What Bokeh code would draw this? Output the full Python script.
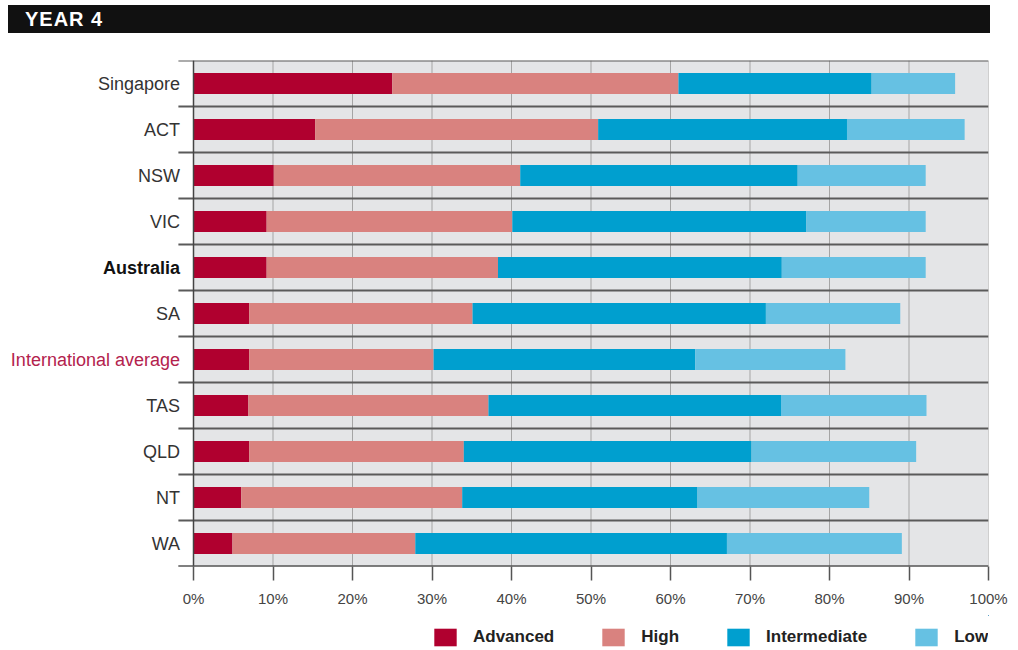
from bokeh.plotting import figure
from bokeh.models import (ColumnDataSource, Range1d, FixedTicker, Div,
                          Legend, LegendItem)
from bokeh.core.properties import value
from bokeh.layouts import column
from bokeh.embed import file_html
from bokeh.resources import INLINE

categories = ["Singapore", "ACT", "NSW", "VIC", "Australia", "SA",
              "International average", "TAS", "QLD", "NT", "WA"]
advanced = [25.0, 15.3, 10.1, 9.2, 9.2, 7.0, 7.0, 6.9, 7.0, 6.0, 4.9]
high = [36.0, 35.6, 31.0, 30.9, 29.1, 28.1, 23.2, 30.2, 27.0, 27.8, 23.0]
intermediate = [24.3, 31.3, 34.9, 37.0, 35.7, 36.9, 32.9, 36.8, 36.2, 29.6, 39.2]
low = [10.5, 14.8, 16.1, 15.0, 18.1, 16.9, 18.9, 18.3, 20.7, 21.6, 22.0]
levels = ["Advanced", "High", "Intermediate", "Low"]
colors = ["#b0002f", "#d9827f", "#009fcf", "#66c1e3"]
x_ticks = [0, 10, 20, 30, 40, 50, 60, 70, 80, 90, 100]

FONT = "Liberation Sans"
n = len(categories)
ypos = [n - 1 - i for i in range(n)]
label_colors = ["#b3224d" if c == "International average"
                else ("#111111" if c == "Australia" else "#333333")
                for c in categories]
label_styles = ["bold" if c == "Australia" else "normal" for c in categories]

source = ColumnDataSource(dict(y=ypos, Advanced=advanced, High=high,
                               Intermediate=intermediate, Low=low))
lab_src = ColumnDataSource(dict(y=ypos, name=categories, color=label_colors,
                                style=label_styles))

PX = 7.95  # pixels per percent
p = figure(width=1018, height=582, output_backend="svg", toolbar_location=None,
           x_range=Range1d(-193 / PX, 100), y_range=Range1d(-0.5, n - 0.5),
           min_border_left=0, min_border_right=30, min_border_top=27,
           min_border_bottom=49, outline_line_color=None,
           background_fill_color="white", border_fill_color="white")
p.yaxis.visible = False
p.grid.visible = False

# grey plotting area
p.quad(left=[0], right=[100], bottom=[-0.5], top=[n - 0.5],
       fill_color="#e4e5e7", line_color=None)
# vertical grid lines
p.segment(x0=x_ticks, x1=x_ticks, y0=[-0.5] * len(x_ticks),
          y1=[n - 0.5] * len(x_ticks), line_color="#a5a5a5", line_width=1)
# row separators (extend left of the plotting area)
bounds = [i - 0.5 for i in range(n + 1)]
p.segment(x0=[-1.9] * len(bounds), x1=[100] * len(bounds), y0=bounds,
          y1=bounds, line_color="#5a5a5a", line_width=2)

p.hbar_stack(levels, y="y", height=0.46, color=colors, source=source,
             line_color=None)

# left axis line
p.segment(x0=[0], x1=[0], y0=[-0.5], y1=[n - 0.5], line_color="#444444",
          line_width=1.5)
# bottom axis line
p.segment(x0=[-1.9], x1=[100], y0=[-0.5], y1=[-0.5], line_color="#555555",
          line_width=2)

p.text(x=-1.7, y="y", text="name", source=lab_src, text_align="right",
       text_baseline="middle", text_font=value(FONT), text_font_size="18px",
       text_color="color", text_font_style="style")

# x axis
p.xaxis.ticker = FixedTicker(ticks=x_ticks)
p.xaxis.major_label_overrides = {t: f"{t}%" for t in x_ticks}
p.xaxis.axis_line_color = None
p.xaxis.major_tick_out = 14
p.xaxis.major_tick_in = 0
p.xaxis.major_tick_line_color = "#555555"
p.xaxis.major_tick_line_width = 1.5
p.xaxis.minor_tick_line_color = None
p.xaxis.major_label_standoff = 9
p.xaxis.major_label_text_font = FONT
p.xaxis.major_label_text_font_size = "15px"
p.xaxis.major_label_text_color = "#444444"

# legend strip (same stacked bars, kept out of view, feed the legend swatches)
p2 = figure(width=1018, height=35, output_backend="svg", toolbar_location=None,
            x_range=Range1d(-1000, -999), y_range=Range1d(-1000, -999),
            min_border=0, outline_line_color=None, border_fill_color="white",
            background_fill_color="white")
p2.axis.visible = False
p2.grid.visible = False
rs = p2.hbar_stack(levels, y="y", height=0.46, color=colors, source=source,
                   line_color=None)
items = [LegendItem(label=lv, renderers=[r]) for lv, r in zip(levels, rs)]
lg = Legend(items=items, location=(431, 2), orientation="horizontal",
            glyph_width=28, glyph_height=22, label_standoff=14, spacing=45,
            padding=0, margin=0, border_line_color=None,
            background_fill_alpha=0, label_text_font=FONT,
            label_text_font_style="bold", label_text_font_size="17px",
            label_text_color="#222222")
p2.add_layout(lg)

header = Div(text="YEAR 4", width=982, height=28, margin=(5, 28, 0, 8),
             styles={"background-color": "#111111", "color": "white",
                     "font-family": "Liberation Sans, Arial, sans-serif",
                     "font-weight": "bold", "font-size": "20px",
                     "letter-spacing": "1px", "padding-left": "17px",
                     "line-height": "28px", "box-sizing": "border-box"})

layout = column(header, p, p2, spacing=0)
open("out.html", "w").write(file_html(layout, INLINE))
